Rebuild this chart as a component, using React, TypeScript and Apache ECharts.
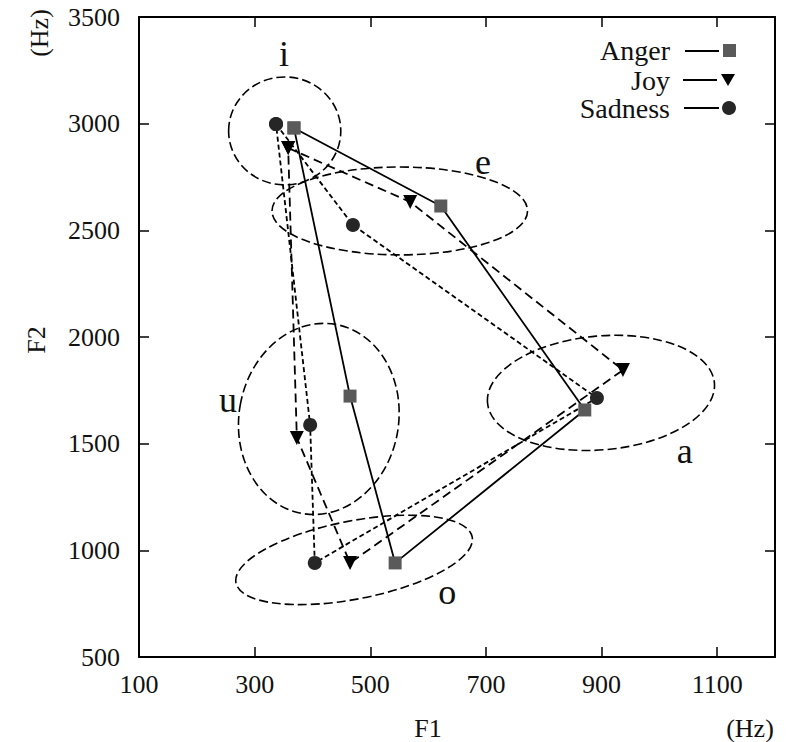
import React, { useEffect, useRef } from "react";
import * as echarts from "echarts";

// ---- data ----
const vowels = ["i", "e", "a", "o", "u"];
const angerF1 = [368, 622, 871, 543, 465];
const angerF2 = [2980, 2614, 1658, 941, 1723];
const joyF1 = [358, 569, 937, 465, 373];
const joyF2 = [2886, 2633, 1845, 941, 1527];
const sadnessF1 = [337, 470, 892, 404, 396];
const sadnessF2 = [2998, 2525, 1714, 941, 1588];

// vowel regions (ellipses): centre, half-widths (Hz), tilt (deg)
const regionVowels = ["i", "e", "u", "a", "o"];
const regionF1 = [352, 551, 411, 899, 472];
const regionF2 = [2966, 2591, 1616, 1738, 955];
const regionRadF1 = [97, 221, 138, 197, 208];
const regionRadF2 = [253, 206, 450, 267, 183];
const regionTilt = [0, 0, -10, 5, 11];

// vowel label positions
const labelF1 = [351, 695, 254, 1044, 633];
const labelF2 = [3327, 2820, 1705, 1466, 805];

const xTicks = [100, 300, 500, 700, 900, 1100];
const yMin = 500;
const yMax = 3500;
const yStep = 500;

const FONT = "'Liberation Serif', 'Times New Roman', serif";
const INK = "#111";

function closed(xs: number[], ys: number[]) {
  const pts = xs.map((x, i) => [x, ys[i]]);
  pts.push([xs[0], ys[0]]);
  return pts;
}

export default function App() {
  const ref = useRef<HTMLDivElement>(null);
  useEffect(() => {
    const chart = echarts.init(ref.current!, null, { renderer: "svg" });
    const axisCommon = {
      type: "value" as const,
      axisLine: { show: true, onZero: false, lineStyle: { color: "#000", width: 2 } },
      axisTick: { show: true, inside: true, length: 10, lineStyle: { color: "#000", width: 1.5 } },
      splitLine: { show: false },
    };
    const lineSeries = (name: string, xs: number[], ys: number[], symbol: string, size: number, color: string, dash: any, rotate = 0) => ({
      name,
      type: "line",
      data: closed(xs, ys),
      symbol,
      symbolSize: size,
      symbolRotate: rotate,
      showAllSymbol: true,
      itemStyle: { color, borderWidth: 0 },
      lineStyle: { color: "#000", width: 1.8, type: dash },
      z: 5,
    });
    const plain = (v: number) => String(v);
    chart.setOption({
      animation: false,
      backgroundColor: "#fff",
      grid: { left: 139, right: 19, top: 17, bottom: 85, containLabel: false },
      xAxis: [
        {
          ...axisCommon,
          min: 100,
          max: 1200,
          position: "bottom",
          axisTick: { ...axisCommon.axisTick, customValues: xTicks },
          axisLabel: { customValues: xTicks, formatter: plain, fontFamily: FONT, fontSize: 26, color: INK, margin: 14 },
        },
        {
          ...axisCommon,
          min: 100,
          max: 1200,
          position: "top",
          axisTick: { ...axisCommon.axisTick, customValues: xTicks },
          axisLabel: { show: false },
        },
      ],
      yAxis: [
        {
          ...axisCommon,
          min: yMin,
          max: yMax,
          interval: yStep,
          position: "left",
          axisLabel: { formatter: plain, fontFamily: FONT, fontSize: 26, color: INK, margin: 19 },
        },
        {
          ...axisCommon,
          min: yMin,
          max: yMax,
          interval: yStep,
          position: "right",
          axisLabel: { show: false },
        },
      ],
      series: [
        {
          name: "regions",
          type: "custom",
          coordinateSystem: "cartesian2d",
          clip: false,
          encode: { x: 0, y: 1 },
          data: regionVowels.map((v, i) => [regionF1[i], regionF2[i], regionRadF1[i], regionRadF2[i], regionTilt[i]]),
          renderItem: (params: any, api: any) => {
            const c = api.coord([api.value(0), api.value(1)]);
            const s = api.size([api.value(2), api.value(3)], [api.value(0), api.value(1)]);
            return {
              type: "ellipse",
              x: c[0],
              y: c[1],
              rotation: (api.value(4) * Math.PI) / 180,
              shape: { cx: 0, cy: 0, rx: Math.abs(s[0]), ry: Math.abs(s[1]) },
              style: { fill: "none", stroke: "#000", lineWidth: 1.6, lineDash: [9, 4] },
            };
          },
          z: 2,
        },
        {
          name: "vowel labels",
          type: "custom",
          coordinateSystem: "cartesian2d",
          clip: false,
          encode: { x: 0, y: 1 },
          data: labelF1.map((x, i) => [x, labelF2[i]]),
          renderItem: (params: any, api: any) => {
            const c = api.coord([api.value(0), api.value(1)]);
            return {
              type: "text",
              x: c[0],
              y: c[1],
              style: {
                text: regionVowels[params.dataIndex],
                fontFamily: FONT,
                fontSize: 36,
                fill: INK,
                textAlign: "center",
                textVerticalAlign: "middle",
              },
            };
          },
          z: 3,
        },
        lineSeries("Anger", angerF1, angerF2, "rect", 13, "#5a5a5a", "solid"),
        lineSeries("Joy", joyF1, joyF2, "triangle", 14, "#000", [9, 5], 180),
        lineSeries("Sadness", sadnessF1, sadnessF2, "circle", 14, "#262626", [5, 3]),
      ],
      graphic: [
        // axis titles
        { type: "text", x: 428, y: 728, style: { text: "F1", fontFamily: FONT, fontSize: 26, fill: INK, textAlign: "center", textVerticalAlign: "middle" } },
        { type: "text", x: 750, y: 728, style: { text: "(Hz)", fontFamily: FONT, fontSize: 26, fill: INK, textAlign: "center", textVerticalAlign: "middle" } },
        { type: "text", x: 36, y: 340, rotation: Math.PI / 2, style: { text: "F2", fontFamily: FONT, fontSize: 26, fill: INK, textAlign: "center", textVerticalAlign: "middle" } },
        { type: "text", x: 39, y: 33, rotation: Math.PI / 2, style: { text: "(Hz)", fontFamily: FONT, fontSize: 26, fill: INK, textAlign: "center", textVerticalAlign: "middle" } },
        // legend
        { type: "text", x: 670, y: 50, style: { text: "Anger", fontFamily: FONT, fontSize: 28, fill: INK, textAlign: "right", textVerticalAlign: "middle" } },
        { type: "line", shape: { x1: 685, y1: 51, x2: 719, y2: 51 }, style: { stroke: "#000", lineWidth: 2 } },
        { type: "rect", shape: { x: 723, y: 44, width: 13, height: 13 }, style: { fill: "#5a5a5a" } },
        { type: "text", x: 670, y: 80, style: { text: "Joy", fontFamily: FONT, fontSize: 28, fill: INK, textAlign: "right", textVerticalAlign: "middle" } },
        { type: "line", shape: { x1: 683, y1: 80, x2: 717, y2: 80 }, style: { stroke: "#000", lineWidth: 2 } },
        { type: "polygon", shape: { points: [[721, 74], [735, 74], [728, 86]] }, style: { fill: "#000" } },
        { type: "text", x: 670, y: 108, style: { text: "Sadness", fontFamily: FONT, fontSize: 28, fill: INK, textAlign: "right", textVerticalAlign: "middle" } },
        { type: "line", shape: { x1: 684, y1: 108, x2: 719, y2: 108 }, style: { stroke: "#000", lineWidth: 2 } },
        { type: "circle", shape: { cx: 729, cy: 108, r: 7 }, style: { fill: "#262626" } },
      ],
    });
    return () => chart.dispose();
  }, []);
  return <div ref={ref} style={{ position: "fixed", left: 0, top: 0, width: 794, height: 742 }} />;
}
